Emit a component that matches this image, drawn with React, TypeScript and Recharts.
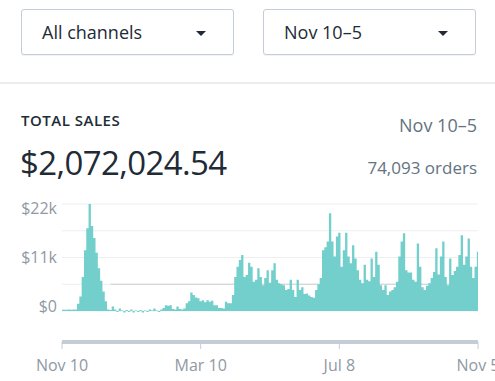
import { ComposedChart, Area, XAxis, YAxis, CartesianGrid, ReferenceLine } from "recharts";

const FILL = "#72cfcb";
const GRID = "#eceef0";
const AXIS = "#c4cdd5";
const INK = "#212b36";
const MUTED = "#637381";
const LIGHT = "#8f99a3";
const FONT = '"Open Sans", "Noto Sans", sans-serif';

// daily sales sampled every 2 days, Nov 10 -> Nov 5
const SALES = [
  250, 250, 250, 300, 250, 300, 300,
  1500, 3000, 7000, 12500, 17000, 22000, 17500, 15000, 12000, 8800, 6200, 4000, 2000, 300,
  200, 900, 300, -200, 500, 100, -300, 200, -200, 300, -300, 100, -200, 200, -300, 100, -200, 300, 100, 500, 100, -200, 300,
  600, 1200, 1100, 1200, 400, 300, 900, 400, 300, 500, 1600, 2000, 3800, 3300, 2800, 2600, 2000, 2200, 1800, 2200,
  1900, 2100, 1200, 1200, 600, 600, 500, 1900, 1600, 1600, 3300,
  7000, 9100, 10500, 11500, 7000, 7400, 9900, 9100, 6000, 6400, 8800, 7000, 5300, 6800, 8400, 5800, 8400, 9800, 6400, 5700,
  5500, 5300, 4300, 4500, 6400, 4300, 2900, 6400, 4300, 4900, 3500, 3600, 3200, 2900, 2700, 4300, 5500, 6800,
  12500, 13100, 14300, 20100, 14300, 11200, 15300, 16100, 9100, 12500, 16100, 11200, 9800, 13500, 10800, 8400, 6400, 5700, 9500, 6400,
  6100, 10800, 7000, 12200, 9500, 5300, 4300, 5300, 3300, 4000, 4300, 4900, 6000, 11200, 14300, 16000, 8400, 7900,
  7900, 6400, 6000, 13900, 9100, 4900, 4300, 5200, 5700, 6800, 8000, 12900, 7500, 11200, 14300, 7000, 5300, 10800, 7400, 8200,
  9100, 11500, 15600, 9500, 11200, 14900, 9100, 6800, 9100, 12200,
];
const STEP_DAYS = 2;

const X_TICKS = [0, 120, 240, 360];
const X_LABELS = ["Nov 10", "Mar 10", "Jul 8", "Nov 5"];
const Y_TICKS = [0, 5500, 11000, 16500, 22000];
const Y_LABELS: Record<number, string> = { 0: "$0", 11000: "$11k", 22000: "$22k" };
const AVG_LINE = 5500;

const data = SALES.map((sales, i) => ({ day: i * STEP_DAYS, sales }));

function YTick(props: any) {
  const { x, y, payload } = props;
  const label = Y_LABELS[payload.value];
  if (!label) return null;
  const dy = 1.5 + (payload.value / 22000) * 8.5;
  return (
    <text x={x} y={y + dy} textAnchor="end" fill={LIGHT} fontSize={16} fontFamily={FONT}>
      {label}
    </text>
  );
}

function Select({ left, label }: { left: number; label: string }) {
  return (
    <div
      style={{
        position: "absolute",
        left,
        top: 9,
        width: 213,
        height: 46,
        border: `1px solid ${AXIS}`,
        borderRadius: 3,
        boxShadow: "0 1px 0 rgba(22,29,37,0.05)",
        background: "#fff",
        boxSizing: "border-box",
      }}
    >
      <div
        style={{
          position: "absolute",
          left: 20,
          top: 0,
          height: 44,
          lineHeight: "44px",
          fontSize: 18,
          color: INK,
        }}
      >
        {label}
      </div>
      <div
        style={{
          position: "absolute",
          left: 174,
          top: 21,
          width: 0,
          height: 0,
          borderLeft: "5px solid transparent",
          borderRight: "5px solid transparent",
          borderTop: `5px solid ${INK}`,
        }}
      />
    </div>
  );
}

export default function App() {
  return (
    <div
      style={{
        position: "relative",
        width: 495,
        height: 381,
        overflow: "hidden",
        background: "#fff",
        fontFamily: FONT,
      }}
    >
      <style>{`body{margin:0}`}</style>
      <Select left={21} label="All channels" />
      <Select left={263} label="Nov 10–5" />
      <div style={{ position: "absolute", left: 0, top: 82, width: 495, height: 2, background: "#eaedf0" }} />

      <div
        style={{
          position: "absolute",
          left: 21,
          top: 113,
          fontSize: 15,
          lineHeight: "15px",
          fontWeight: 600,
          letterSpacing: 0.5,
          color: INK,
        }}
      >
        TOTAL SALES
      </div>
      <div
        style={{
          position: "absolute",
          left: 20,
          top: 146,
          fontSize: 33,
          lineHeight: "33px",
          letterSpacing: -0.6,
          color: INK,
        }}
      >
        $2,072,024.54
      </div>
      <div
        style={{
          position: "absolute",
          right: 18,
          top: 116,
          fontSize: 18,
          lineHeight: "18px",
          color: MUTED,
        }}
      >
        Nov 10–5
      </div>
      <div
        style={{
          position: "absolute",
          right: 18,
          top: 159,
          fontSize: 17,
          lineHeight: "17px",
          color: MUTED,
        }}
      >
        74,093 orders
      </div>

      <div style={{ position: "absolute", left: 0, top: 190 }}>
        <ComposedChart
          width={495}
          height={191}
          data={data}
          margin={{ top: 14, right: 17, left: 0, bottom: 0 }}
        >
          <CartesianGrid vertical={false} stroke={GRID} />
          <ReferenceLine
            segment={[
              { x: 42, y: AVG_LINE },
              { x: 360, y: AVG_LINE },
            ]}
            stroke="#c9ced3"
            strokeWidth={1}
            zIndex={50}
          />
          <XAxis
            dataKey="day"
            type="number"
            domain={[0, 360]}
            ticks={X_TICKS}
            interval={0}
            tickFormatter={(v: number) => X_LABELS[X_TICKS.indexOf(v)] ?? ""}
            axisLine={{ stroke: AXIS, strokeWidth: 4 }}
            tickLine={{ stroke: AXIS }}
            tickSize={7}
            tickMargin={11}
            height={39}
            tick={{ fontSize: 16, fill: LIGHT, fontFamily: FONT }}
          />
          <YAxis
            type="number"
            domain={[-6374, 22000]}
            ticks={Y_TICKS}
            width={62}
            axisLine={false}
            tickLine={false}
            tickSize={0}
            tickMargin={5}
            tick={<YTick />}
          />
          <Area
            type="step"
            dataKey="sales"
            baseValue={0}
            fill={FILL}
            fillOpacity={1}
            stroke="none"
            isAnimationActive={false}
          />
        </ComposedChart>
      </div>
    </div>
  );
}
